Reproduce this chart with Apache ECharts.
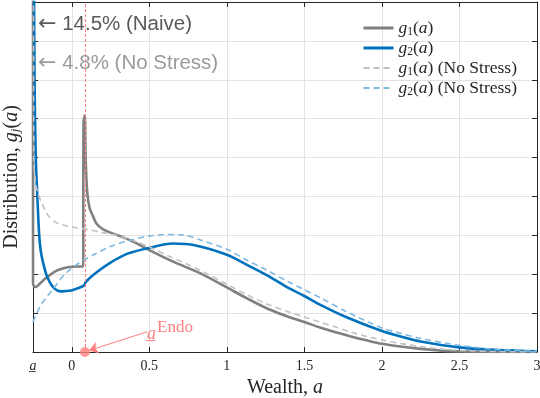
<!DOCTYPE html>
<html><head><meta charset="utf-8">
<script src="https://cdn.jsdelivr.net/npm/echarts@6/dist/echarts.min.js"></script>
<style>html,body{margin:0;padding:0;background:#fff}#c{width:540px;height:398px}</style>
</head><body><div id="c"></div>
<script>
// ---- data ----
const xTickValues = [-0.25, 0, 0.5, 1, 1.5, 2, 2.5, 3];
const xTickLabels = ['a\u0332', '0', '0.5', '1', '1.5', '2', '2.5', '3'];
const aMin = -0.25;
const aEndo = 0.085;

// g1(a) naive (with stress)
const g1X = [-0.25, -0.2499, -0.24, -0.233, -0.21, -0.176, -0.14, -0.112, -0.08, -0.047, 0, 0.04, 0.073, 0.076, 0.084, 0.09, 0.1, 0.115, 0.136, 0.16, 0.2, 0.25, 0.33, 0.4, 0.5, 0.65, 0.83, 1.0, 1.13, 1.26, 1.4, 1.5, 1.6, 1.71, 1.8, 1.9, 2.0, 2.12, 2.25, 2.4, 2.5, 2.75, 3.0];
const g1Y = [30, 1.75, 1.68, 1.67, 1.74, 1.87, 1.98, 2.06, 2.12, 2.16, 2.19, 2.2, 2.2, 5.9, 6.08, 4.9, 4.1, 3.7, 3.5, 3.3, 3.16, 3.07, 2.95, 2.83, 2.62, 2.33, 2.02, 1.66, 1.38, 1.12, 0.9, 0.77, 0.63, 0.5, 0.4, 0.3, 0.21, 0.14, 0.08, 0.03, 0.015, 0.002, 0];

// g2(a) naive (with stress)
const g2X = [-0.25, -0.24, -0.232, -0.222, -0.21, -0.2, -0.185, -0.16, -0.12, -0.07, -0.005, 0.06, 0.08, 0.09, 0.15, 0.25, 0.36, 0.5, 0.65, 0.8, 1.0, 1.13, 1.26, 1.4, 1.5, 1.6, 1.78, 2.0, 2.12, 2.25, 2.5, 2.75, 3.0];
const g2Y = [14, 7, 5, 4.0, 3.0, 2.6, 2.3, 1.95, 1.67, 1.56, 1.58, 1.67, 1.72, 1.8, 2.02, 2.3, 2.53, 2.68, 2.79, 2.74, 2.5, 2.24, 1.97, 1.64, 1.44, 1.22, 0.88, 0.54, 0.4, 0.27, 0.12, 0.05, 0.02];

// g1(a) no stress
const g1nsX = [-0.25, -0.245, -0.235, -0.22, -0.19, -0.15, -0.1, -0.05, 0.02, 0.1, 0.2, 0.29, 0.4, 0.5, 0.59, 0.83, 1.0, 1.13, 1.26, 1.4, 1.5, 1.6, 1.71, 1.8, 1.9, 2.0, 2.12, 2.25, 2.4, 2.5, 2.75, 3.0];
const g1nsY = [30, 5.0, 4.4, 4.1, 3.8, 3.5, 3.33, 3.26, 3.2, 3.15, 3.07, 3.0, 2.86, 2.7, 2.53, 2.1, 1.74, 1.47, 1.23, 1.03, 0.9, 0.77, 0.63, 0.51, 0.4, 0.31, 0.22, 0.14, 0.07, 0.04, 0.01, 0];

// g2(a) no stress
const g2nsX = [-0.25, -0.2, -0.16, -0.12, -0.05, 0.04, 0.15, 0.25, 0.36, 0.5, 0.6, 0.72, 0.83, 1.0, 1.13, 1.26, 1.4, 1.5, 1.6, 1.78, 2.0, 2.12, 2.25, 2.5, 2.75, 3.0];
const g2nsY = [0.78, 1.2, 1.42, 1.62, 1.98, 2.27, 2.52, 2.71, 2.86, 2.98, 3.02, 3.01, 2.88, 2.64, 2.36, 2.1, 1.8, 1.6, 1.4, 1.02, 0.62, 0.48, 0.35, 0.17, 0.06, 0.02];

const massNaive = '14.5%';
const massNoStress = '4.8%';

// ---- chart ----
const zip = (xs, ys) => xs.map((x, i) => [x, ys[i]]);
const serif = 'Liberation Serif';
const red = '#ff7f7f';
const chart = echarts.init(document.getElementById('c'), null, {renderer: 'canvas'});

const mathRich = {
  r: {fontFamily: serif, fontSize: 17.5, color: '#262626', lineHeight: 20},
  i: {fontFamily: serif, fontSize: 17.5, fontStyle: 'italic', color: '#262626', lineHeight: 20},
  s: {fontFamily: serif, fontSize: 11.5, color: '#262626', lineHeight: 20, padding: [7, 0, 0, 0]}
};
const legendText = {
  g1: '{i|g}{s|1}{r|(}{i|a}{r|)}',
  g2: '{i|g}{s|2}{r|(}{i|a}{r|)}',
  g1ns: '{i|g}{s|1}{r|(}{i|a}{r|) (No Stress)}',
  g2ns: '{i|g}{s|2}{r|(}{i|a}{r|) (No Stress)}'
};

const axisColor = '#262626';
const gridColor = '#e3e3e3';
const smoothK = 0.3;

const option = {
  animation: false,
  backgroundColor: '#fff',
  grid: {left: 33, right: 3, top: 2, bottom: 46, outerBoundsMode: 'none', containLabel: false},
  legend: {
    orient: 'vertical', left: 357, top: 13, itemWidth: 30, itemHeight: 10, itemGap: 0,
    itemStyle: {opacity: 0},
    data: [
      {name: 'g1', lineStyle: {width: 3}},
      {name: 'g2', lineStyle: {width: 3}},
      {name: 'g1ns', lineStyle: {width: 1.8}},
      {name: 'g2ns', lineStyle: {width: 1.8}}
    ],
    formatter: n => legendText[n],
    textStyle: {rich: mathRich, lineHeight: 20}
  },
  xAxis: [{
    type: 'value', min: aMin, max: 3, position: 'bottom',
    axisLine: {onZero: false, lineStyle: {color: axisColor, width: 1}},
    axisTick: {inside: true, length: 5, customValues: xTickValues, lineStyle: {color: axisColor}},
    axisLabel: {
      customValues: xTickValues, margin: 7,
      formatter: v => { const k = xTickValues.findIndex(t => Math.abs(t - v) < 1e-9); const s = k >= 0 ? xTickLabels[k] : ''; return k === 0 ? '{u|' + s + '}' : s; },
      fontFamily: serif, fontSize: 14, color: axisColor,
      rich: {u: {fontFamily: serif, fontSize: 14, fontStyle: 'italic', color: axisColor}}
    },
    splitLine: {show: true, lineStyle: {color: gridColor, width: 1}},
    name: '{r|Wealth, }{i|a}', nameLocation: 'middle', nameGap: 23,
    nameTextStyle: {rich: {
      r: {fontFamily: serif, fontSize: 20, color: axisColor},
      i: {fontFamily: serif, fontSize: 20, fontStyle: 'italic', color: axisColor}
    }}
  }, {
    type: 'value', min: aMin, max: 3, position: 'top',
    axisLine: {onZero: false, lineStyle: {color: axisColor, width: 1}},
    axisTick: {inside: true, length: 5, customValues: xTickValues, lineStyle: {color: axisColor}},
    axisLabel: {show: false}, splitLine: {show: false}
  }],
  yAxis: [{
    type: 'value', min: 0, max: 9, interval: 1, position: 'left',
    axisLine: {show: true, onZero: false, lineStyle: {color: axisColor, width: 1}},
    axisTick: {show: true, inside: true, length: 5, lineStyle: {color: axisColor}},
    axisLabel: {show: false},
    splitLine: {show: true, lineStyle: {color: gridColor, width: 1}},
    name: '{r|Distribution, }{i|g}{si|j}{r|(}{i|a}{r|)}', nameLocation: 'middle', nameGap: 10,
    nameTextStyle: {rich: {
      r: {fontFamily: serif, fontSize: 20, color: axisColor, lineHeight: 22},
      i: {fontFamily: serif, fontSize: 20, fontStyle: 'italic', color: axisColor, lineHeight: 22},
      si: {fontFamily: serif, fontSize: 13, fontStyle: 'italic', color: axisColor, lineHeight: 22, padding: [8, 0, 0, 0]}
    }}
  }, {
    type: 'value', min: 0, max: 9, interval: 1, position: 'right',
    axisLine: {show: true, onZero: false, lineStyle: {color: axisColor, width: 1}},
    axisTick: {show: true, inside: true, length: 5, lineStyle: {color: axisColor}},
    axisLabel: {show: false}, splitLine: {show: false}
  }],
  series: [
    {name: 'g1', type: 'line', data: zip(g1X, g1Y), showSymbol: false, symbol: 'none', smooth: smoothK, clip: true,
     lineStyle: {color: '#808080', width: 2.6}, itemStyle: {color: '#808080'}, z: 3},
    {name: 'g2', type: 'line', data: zip(g2X, g2Y), showSymbol: false, symbol: 'none', smooth: smoothK, clip: true,
     lineStyle: {color: '#0072BD', width: 2.6}, itemStyle: {color: '#0072BD'}, z: 3},
    {name: 'g1ns', type: 'line', data: zip(g1nsX, g1nsY), showSymbol: false, symbol: 'none', smooth: smoothK, clip: true,
     lineStyle: {color: '#c0c0c0', width: 1.6, type: [6, 4]}, itemStyle: {color: '#c0c0c0'}, z: 4},
    {name: 'g2ns', type: 'line', data: zip(g2nsX, g2nsY), showSymbol: false, symbol: 'none', smooth: smoothK, clip: true,
     lineStyle: {color: '#80b9df', width: 1.6, type: [6, 4]}, itemStyle: {color: '#80b9df'}, z: 4},
    {name: 'endo', type: 'scatter', data: [[aEndo, 0]], symbolSize: 10, clip: false, z: 6,
     itemStyle: {color: red},
     markLine: {
       silent: true, animation: false, z: 5,
       label: {show: false},
       data: [
         [{coord: [aEndo, 0], symbol: 'none', lineStyle: {color: red, width: 1, type: [3, 2]}},
          {coord: [aEndo, 9], symbol: 'none'}],
         [{coord: [0.487, 0.52], symbol: 'none', lineStyle: {color: red, width: 1, type: 'solid'}},
          {coord: [0.112, 0.04], symbol: 'arrow', symbolSize: 9}]
       ]
     }}
  ],
  graphic: [
    {type: 'text', left: 38, top: 13, z: 10, style: {
      text: '{ar|\u2190}{t| ' + massNaive + ' (Naive)}',
      rich: {ar: {fontFamily: 'DejaVu Sans', fontSize: 22, fill: '#595959'}, t: {fontFamily: 'Liberation Sans', fontSize: 20.5, fill: '#595959'}}}},
    {type: 'text', left: 38, top: 52, z: 10, style: {
      text: '{ar|\u2190}{t| ' + massNoStress + ' (No Stress)}',
      rich: {ar: {fontFamily: 'DejaVu Sans', fontSize: 22, fill: '#9a9a9a'}, t: {fontFamily: 'Liberation Sans', fontSize: 20.5, fill: '#9a9a9a'}}}},
    {type: 'text', left: 147, top: 325, z: 10, style: {text: 'a\u0332', fontFamily: serif, fontSize: 18, fontStyle: 'italic', fill: red}},
    {type: 'text', left: 157, top: 319, z: 10, style: {text: 'Endo', fontFamily: serif, fontSize: 17, fill: red}}
  ]
};
chart.setOption(option);
</script></body></html>
